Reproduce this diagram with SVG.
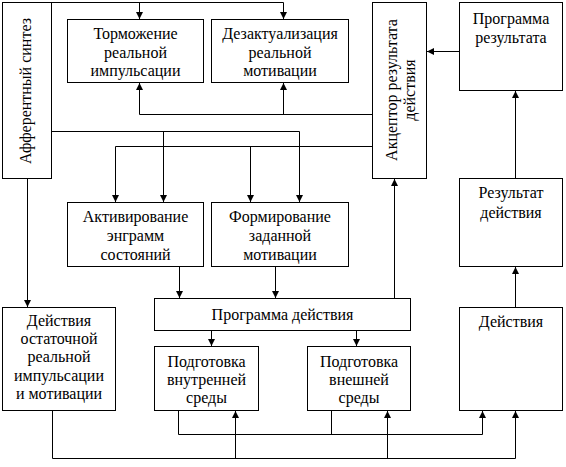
<svg xmlns="http://www.w3.org/2000/svg" width="566" height="467" viewBox="0 0 566 467">
<style>
rect{fill:#fff;stroke:#000;stroke-width:1}
.c path{fill:none;stroke:#000;stroke-width:1}
text{fill:#000;text-anchor:middle}
</style>
<defs>
<marker id="a" markerUnits="userSpaceOnUse" markerWidth="8" markerHeight="8" refX="7" refY="3.5" orient="auto">
<path d="M0,0 L7,3.5 L0,7 z" fill="#000"/>
</marker>
</defs>
<rect x="0" y="0" width="566" height="467" style="stroke:none"/>
<g class="c" id="connectors">
<path d="M51.5,2.5 H283.5 V19" marker-end="url(#a)"/>
<path d="M139.5,2.5 V19" marker-end="url(#a)"/>
<path d="M372.5,114.5 H139.5 V83" marker-end="url(#a)"/>
<path d="M283.5,114.5 V83" marker-end="url(#a)"/>
<path d="M51.5,131.5 H299.5 V202" marker-end="url(#a)"/>
<path d="M163.5,131.5 V202" marker-end="url(#a)"/>
<path d="M372.5,146.5 H115.5 V202" marker-end="url(#a)"/>
<path d="M250.5,146.5 V202" marker-end="url(#a)"/>
<path d="M179.5,266.5 V298" marker-end="url(#a)"/>
<path d="M275.5,266.5 V298" marker-end="url(#a)"/>
<path d="M394.5,298.5 V179" marker-end="url(#a)"/>
<path d="M459.5,51.5 H427" marker-end="url(#a)"/>
<path d="M515.5,178.5 V91" marker-end="url(#a)"/>
<path d="M515.5,307.5 V267" marker-end="url(#a)"/>
<path d="M27.5,178.5 V307" marker-end="url(#a)"/>
<path d="M211.5,330.5 V346" marker-end="url(#a)"/>
<path d="M356.5,330.5 V346" marker-end="url(#a)"/>
<path d="M178.5,410.5 V434.5 H482.5 V411" marker-end="url(#a)"/>
<path d="M331.5,410.5 V434.5"/>
<path d="M52.5,410.5 V458.5 H515.5 V411" marker-end="url(#a)"/>
<path d="M235.5,458.5 V411" marker-end="url(#a)"/>
<path d="M387.5,458.5 V411" marker-end="url(#a)"/>
</g>
<g font-family="Liberation Serif" font-size="16">
<g id="afferent">
<rect x="2.5" y="2.5" width="49" height="176"/>
<text transform="translate(30.5,91) rotate(-90)">Афферентный синтез</text>
</g>
<g id="tormozhenie">
<rect x="67.5" y="19.5" width="136" height="63"/>
<text x="135.5" y="39">Торможение</text>
<text x="135.5" y="58">реальной</text>
<text x="135.5" y="76">импульсации</text>
</g>
<g id="dezakt">
<rect x="211.5" y="19.5" width="137" height="63"/>
<text x="280" y="39">Дезактуализация</text>
<text x="280" y="58">реальной</text>
<text x="280" y="76">мотивации</text>
</g>
<g id="akceptor">
<rect x="372.5" y="2.5" width="54" height="176"/>
<text transform="translate(397,90) rotate(-90)">Акцептор результата</text>
<text transform="translate(415,90) rotate(-90)">действия</text>
</g>
<g id="prog-rez">
<rect x="459.5" y="2.5" width="103" height="88"/>
<text x="511" y="24">Программа</text>
<text x="511" y="43">результата</text>
</g>
<g id="rez-dey">
<rect x="459.5" y="178.5" width="103" height="88"/>
<text x="511" y="198">Результат</text>
<text x="511" y="218">действия</text>
</g>
<g id="aktiv">
<rect x="67.5" y="202.5" width="136" height="64"/>
<text x="135.5" y="222">Активирование</text>
<text x="135.5" y="241">энграмм</text>
<text x="135.5" y="260">состояний</text>
</g>
<g id="form">
<rect x="211.5" y="202.5" width="137" height="64"/>
<text x="280" y="222">Формирование</text>
<text x="280" y="241">заданной</text>
<text x="280" y="260">мотивации</text>
</g>
<g id="prog-dey">
<rect x="154.5" y="298.5" width="256" height="32"/>
<text x="282.5" y="320">Программа действия</text>
</g>
<g id="dey-ost">
<rect x="2.5" y="307.5" width="113" height="103"/>
<text x="59" y="326">Действия</text>
<text x="59" y="344">остаточной</text>
<text x="59" y="362">реальной</text>
<text x="59" y="381">импульсации</text>
<text x="59" y="399">и мотивации</text>
</g>
<g id="pod-vn">
<rect x="154.5" y="346.5" width="104" height="64"/>
<text x="206.5" y="367">Подготовка</text>
<text x="206.5" y="385">внутренней</text>
<text x="206.5" y="403">среды</text>
</g>
<g id="pod-ext">
<rect x="307.5" y="346.5" width="103" height="64"/>
<text x="359" y="367">Подготовка</text>
<text x="359" y="385">внешней</text>
<text x="359" y="403">среды</text>
</g>
<g id="deystviya">
<rect x="459.5" y="307.5" width="103" height="103"/>
<text x="511" y="327">Действия</text>
</g>
</g>
</svg>
